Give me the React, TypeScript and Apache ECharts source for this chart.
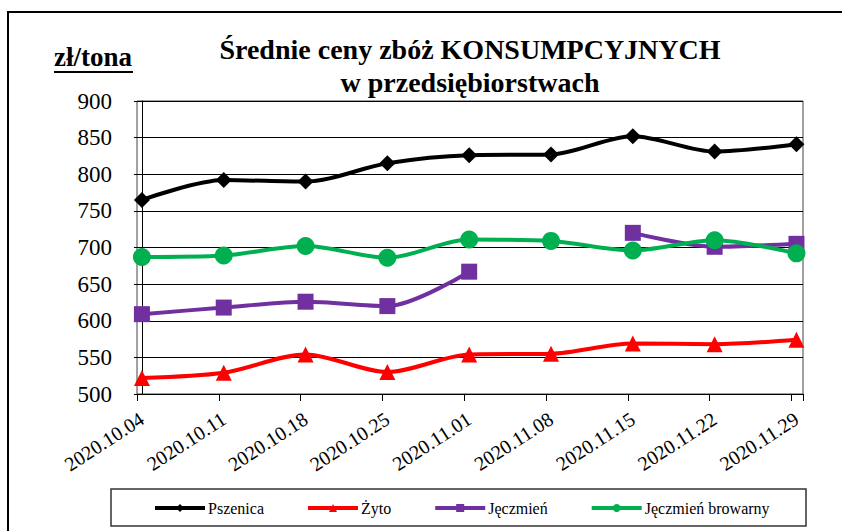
import React, { useEffect, useRef } from "react";
import * as echarts from "echarts";

const categories = [
  "2020.10.04", "2020.10.11", "2020.10.18", "2020.10.25", "2020.11.01",
  "2020.11.08", "2020.11.15", "2020.11.22", "2020.11.29",
];
const pszenica = [765, 792, 790, 815, 826, 827, 852, 831, 841];
const zyto = [522, 529, 554, 530, 554, 555, 569, 568, 574];
const jeczmien: (number | null)[] = [609, 618, 626, 620, 667, null, 720, 701, 705];
const jeczmienBrowarny = [687, 689, 702, 686, 711, 709, 696, 710, 692];
const yTicks = { min: 500, max: 900, interval: 50 };

const X_MIN = -0.06; // tick marks sit slightly left of the data points
const X_MAX = 8.08;

const SERIF = "Liberation Serif";

const pairs = (arr: (number | null)[]) =>
  arr.map((v, i) => [i, v == null ? "-" : v]);

export default function App() {
  const ref = useRef<HTMLDivElement>(null);
  useEffect(() => {
    document.body.style.margin = "0";
    if (!ref.current) return;
    const chart = echarts.init(ref.current, null, { renderer: "svg" });
    const mk = (
      name: string,
      data: (number | null)[],
      color: string,
      symbol: string,
      size: number
    ) => ({
      name,
      type: "line",
      xAxisIndex: 1,
      data: pairs(data),
      smooth: 0.3,
      connectNulls: false,
      symbol,
      symbolSize: size,
      showAllSymbol: true,
      lineStyle: { color, width: 4 },
      itemStyle: { color, borderWidth: 0 },
      z: 3,
    });
    chart.setOption({
      animation: false,
      backgroundColor: "#fff",
      title: {
        text: "Średnie ceny zbóż KONSUMPCYJNYCH\nw przedsiębiorstwach",
        left: 465,
        top: 28,
        textAlign: "center",
        textStyle: {
          fontFamily: SERIF,
          fontWeight: "bold",
          fontSize: 28,
          lineHeight: 33,
          color: "#000",
        },
      },
      legend: {
        left: 148,
        top: 495,
        itemWidth: 50,
        itemHeight: 10,
        itemGap: 42,
        lineStyle: { width: 4 },
        textStyle: { fontFamily: SERIF, fontSize: 16, color: "#000", padding: [0, 0, 0, -2] },
        data: ["Pszenica", "Żyto", "Jęczmień", "Jęczmień browarny"],
      },
      grid: {
        left: 137,
        right: 39,
        top: 101,
        bottom: 137,
        show: true,
        borderColor: "#444",
        borderWidth: 1,
        containLabel: false,
        outerBoundsMode: "none",
      },
      xAxis: [
        {
          type: "value",
          position: "bottom",
          min: X_MIN,
          max: X_MAX,
          interval: 1,
          splitLine: { show: false },
          axisLine: { show: true, lineStyle: { color: "#000", width: 1 } },
          axisTick: { show: true, length: 7, inside: false, lineStyle: { color: "#000" } },
          axisLabel: { show: false },
        },
        {
          type: "value",
          position: "bottom",
          min: X_MIN,
          max: X_MAX,
          splitNumber: 8,
          splitLine: { show: false },
          axisLine: { show: false },
          axisTick: { show: false },
          axisLabel: {
            rotate: 33,
            margin: 23,
            fontSize: 20,
            fontFamily: SERIF,
            color: "#000",
            hideOverlap: false,
            formatter: (v: number) => {
              const i = Math.round(v);
              if (Math.abs(v - i) < 1e-6 && i >= 0 && i < categories.length)
                return categories[i];
              return "";
            },
          },
        },
      ],
      yAxis: {
        type: "value",
        min: yTicks.min,
        max: yTicks.max,
        interval: yTicks.interval,
        axisLine: { show: true, lineStyle: { color: "#000", width: 1 } },
        axisTick: { show: true, length: 8, inside: false, lineStyle: { color: "#000" } },
        splitLine: { show: true, lineStyle: { color: "#000", width: 1 } },
        axisLabel: {
          margin: 25,
          fontSize: 23,
          fontFamily: SERIF,
          color: "#000",
        },
      },
      graphic: [
        {
          type: "rect",
          shape: { x: 8, y: 12, width: 900, height: 600 },
          style: { fill: "none", stroke: "#000", lineWidth: 2 },
          silent: true,
          z: -10,
        },
        {
          type: "rect",
          shape: { x: 111, y: 489, width: 695, height: 37 },
          style: { fill: "none", stroke: "#333", lineWidth: 1.5 },
          silent: true,
        },
        {
          type: "text",
          x: 54,
          y: 70,
          style: {
            text: "zł/tona",
            fontFamily: SERIF,
            fontWeight: "bold",
            fontSize: 27,
            fill: "#000",
            verticalAlign: "bottom",
          },
        },
        {
          type: "line",
          shape: { x1: 54, y1: 72, x2: 133, y2: 72 },
          style: { stroke: "#000", lineWidth: 2 },
        },
      ],
      series: [
        mk("Pszenica", pszenica, "#000000", "diamond", 16),
        mk("Żyto", zyto, "#ff0000", "triangle", 16),
        mk("Jęczmień", jeczmien, "#7030a0", "rect", 16),
        mk("Jęczmień browarny", jeczmienBrowarny, "#00b050", "circle", 18),
      ],
    });
    return () => chart.dispose();
  }, []);
  return <div ref={ref} style={{ width: 842, height: 531 }} />;
}
